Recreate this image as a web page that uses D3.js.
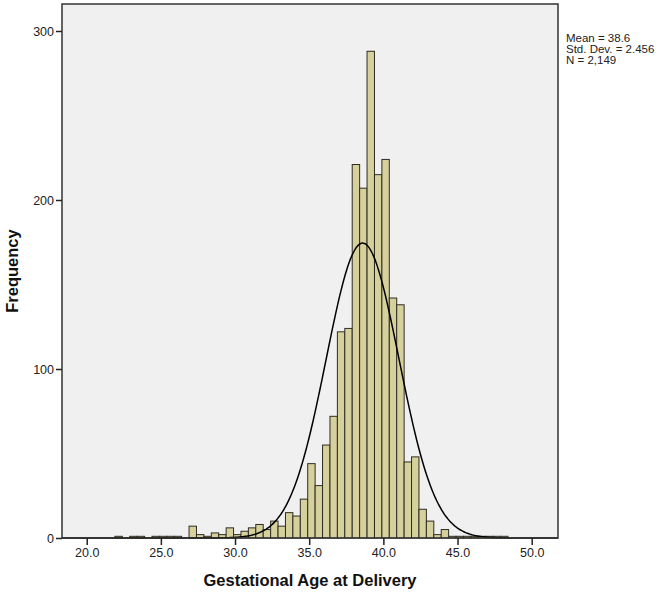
<!DOCTYPE html>
<html>
<head>
<meta charset="utf-8">
<script src="https://cdn.jsdelivr.net/npm/d3@7/dist/d3.min.js"></script>
<style>
  html, body { margin: 0; padding: 0; background: #ffffff; }
  svg { display: block; font-family: "Liberation Sans", Arial, sans-serif; }
</style>
</head>
<body>
<svg id="chart" width="670" height="598"></svg>
<script>
// ---- data ----
const binLower = [21.9, 22.4, 22.9, 23.4, 23.9, 24.4, 24.9, 25.4, 25.9, 26.4,
                  26.9, 27.4, 27.9, 28.4, 28.9, 29.4, 29.9, 30.4, 30.9, 31.4,
                  31.9, 32.4, 32.9, 33.4, 33.9, 34.4, 34.9, 35.4, 35.9, 36.4,
                  36.9, 37.4, 37.9, 38.4, 38.9, 39.4, 39.9, 40.4, 40.9, 41.4,
                  41.9, 42.4, 42.9, 43.4, 43.9, 44.4, 44.9, 45.4, 45.9, 46.4,
                  46.9, 47.4, 47.9];
const binWidth = 0.5;
const counts   = [1, 0, 1, 1, 0, 1, 1, 1, 1, 0,
                  7, 2, 1, 3, 2, 6, 2, 4, 6, 8,
                  5, 10, 7, 15, 13, 23, 44, 31, 55, 72,
                  122, 124, 221, 207, 288, 215, 224, 142, 138, 45,
                  48, 17, 10, 2, 5, 1, 1, 1, 1, 1,
                  1, 1, 1];
const stats = { mean: 38.6, sd: 2.456, n: 2149 };
const statLines = ["Mean = 38.6", "Std. Dev. = 2.456", "N = 2,149"];
const xTicks = [20, 25, 30, 35, 40, 45, 50];
const yTicks = [0, 100, 200, 300];
const xTitle = "Gestational Age at Delivery";
const yTitle = "Frequency";

// ---- layout ----
const frame = { left: 62, right: 558, top: 4, bottom: 538 };
const svg = d3.select("#chart");

const x = d3.scaleLinear().domain([20, 50]).range([86.7, 531.7]);
const y = d3.scaleLinear().domain([0, 300]).range([538, 31]);

// plot background
svg.append("rect")
  .attr("x", frame.left).attr("y", frame.top)
  .attr("width", frame.right - frame.left).attr("height", frame.bottom - frame.top)
  .attr("fill", "#f0f0f0");

// bars
svg.append("g").selectAll("rect")
  .data(binLower.map((b, i) => ({ b, c: counts[i] })).filter(d => d.c > 0))
  .join("rect")
  .attr("x", d => x(d.b))
  .attr("width", d => x(d.b + binWidth) - x(d.b))
  .attr("y", d => y(d.c))
  .attr("height", d => y(0) - y(d.c))
  .attr("fill", "#d6d19c")
  .attr("stroke", "#2e2c22")
  .attr("stroke-width", 1);

// normal curve from the stated mean / sd / N
const x0 = x.invert(frame.left), x1 = x.invert(frame.right);
const pts = d3.range(0, 401).map(i => {
  const v = x0 + (x1 - x0) * i / 400;
  const z = (v - stats.mean) / stats.sd;
  const f = stats.n * binWidth * Math.exp(-0.5 * z * z) / (stats.sd * Math.sqrt(2 * Math.PI));
  return [v, f];
});
svg.append("path")
  .datum(pts)
  .attr("d", d3.line().x(d => x(d[0])).y(d => y(d[1])).curve(d3.curveBasis))
  .attr("fill", "none")
  .attr("stroke", "#000")
  .attr("stroke-width", 1.5);

// frame
svg.append("rect")
  .attr("x", frame.left).attr("y", frame.top)
  .attr("width", frame.right - frame.left).attr("height", frame.bottom - frame.top)
  .attr("fill", "none").attr("stroke", "#333").attr("stroke-width", 1.5);

// axes
const xAxis = svg.append("g")
  .attr("transform", `translate(0,${frame.bottom})`)
  .call(d3.axisBottom(x).tickValues(xTicks).tickFormat(d3.format(".1f")).tickSize(7).tickPadding(3));
const yAxis = svg.append("g")
  .attr("transform", `translate(${frame.left},0)`)
  .call(d3.axisLeft(y).tickValues(yTicks).tickFormat(d3.format("d")).tickSize(6).tickPadding(2));
[xAxis, yAxis].forEach(a => {
  a.select(".domain").remove();
  a.selectAll(".tick line").attr("stroke", "#222").attr("stroke-width", 1.5);
  a.selectAll(".tick text").attr("fill", "#222").attr("font-size", 12.5)
    .attr("font-family", "'Liberation Sans', Arial, sans-serif");
});

// titles
svg.append("text")
  .attr("x", 310).attr("y", 586)
  .attr("text-anchor", "middle")
  .attr("font-size", 16.5).attr("font-weight", "bold").attr("fill", "#111")
  .text(xTitle);
svg.append("text")
  .attr("transform", `translate(18,${(frame.top + frame.bottom) / 2}) rotate(-90)`)
  .attr("text-anchor", "middle")
  .attr("font-size", 16.5).attr("font-weight", "bold").attr("fill", "#111")
  .text(yTitle);

// stats text
svg.append("g").selectAll("text")
  .data(statLines)
  .join("text")
  .attr("x", 566)
  .attr("y", (d, i) => 42 + i * 11)
  .attr("font-size", 11.5).attr("fill", "#222")
  .text(d => d);
</script>
</body>
</html>
